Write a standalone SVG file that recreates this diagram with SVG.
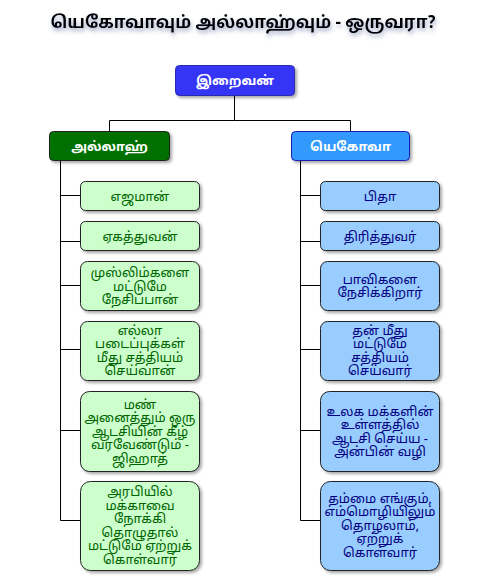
<svg xmlns="http://www.w3.org/2000/svg" width="487" height="577" viewBox="0 0 487 577">
<defs>
<filter id="sh" x="-20%" y="-20%" width="150%" height="150%">
<feDropShadow dx="2" dy="2" stdDeviation="1.5" flood-color="#000" flood-opacity="0.35"/>
</filter>
<filter id="tsh" x="-10%" y="-50%" width="120%" height="220%">
<feDropShadow dx="1" dy="3" stdDeviation="2" flood-color="#6670a0" flood-opacity="0.6"/>
</filter>
</defs>
<style>
text{font-family:"Noto Sans Tamil","Latha","Noto Sans","DejaVu Sans",sans-serif;text-anchor:middle}
.title{font-size:17px;font-weight:bold;fill:#000}
.root rect{fill:#3636f5;stroke:#2a2ab0;stroke-width:1}
.l1g rect{fill:#007000;stroke:#222;stroke-width:1}
.l1b rect{fill:#3399ff;stroke:#1a1ab0;stroke-width:1}
.hd text{fill:#fff;font-size:13px;font-weight:bold}
.g rect{fill:#ccffcc;stroke:#222;stroke-width:1}
.g text{fill:#006400;font-size:13px}
.b rect{fill:#99ccff;stroke:#222;stroke-width:1}
.b text{fill:#000080;font-size:13px}
.conn path{fill:none;stroke:#000;stroke-width:1}
</style>
<text class="title" x="243" y="28" filter="url(#tsh)">யெகோவாவும் அல்லாஹ்வும் - ஒருவரா?</text>
<g class="conn">
<path d="M234.5 95V120.5H109.5V131M234.5 120.5H350.5V131"/>
<path d="M60.5 160V520.5M60.5 195.5H80M60.5 241.5H80M60.5 285.5H80M60.5 349.5H80M60.5 430.5H80M60.5 520.5H80"/>
<path d="M300.5 160V520.5M300.5 195.5H320M300.5 241.5H320M300.5 285.5H320M300.5 349.5H320M300.5 430.5H320M300.5 520.5H320"/>
</g>
<g id="root" class="root hd"><rect x="175.5" y="65.5" width="119" height="30" rx="4" filter="url(#sh)"/><text x="235" y="85">இறைவன்</text></g>
<g id="allah" class="l1g hd"><rect x="49.5" y="131.5" width="120" height="29" rx="4" filter="url(#sh)"/><text x="109.5" y="150.5">அல்லாஹ்</text></g>
<g id="jehovah" class="l1b hd"><rect x="291.5" y="131.5" width="118" height="29" rx="4" filter="url(#sh)"/><text x="350.5" y="150.5">யெகோவா</text></g>

<g id="a1" class="g"><rect x="80.5" y="181.5" width="119" height="29" rx="5" filter="url(#sh)"/><text x="140" y="200.5">எஜமான்</text></g>
<g id="a2" class="g"><rect x="80.5" y="221.5" width="119" height="29" rx="5" filter="url(#sh)"/><text x="140" y="240.5">ஏகத்துவன்</text></g>
<g id="a3" class="g"><rect x="80.5" y="261.5" width="119" height="49" rx="7" filter="url(#sh)"/><text x="140" y="277">முஸ்லிம்களை<tspan x="140" dy="13.5">மட்டுமே</tspan><tspan x="140" dy="13.5">நேசிப்பான்</tspan></text></g>
<g id="a4" class="g"><rect x="80.5" y="321.5" width="119" height="59" rx="7" filter="url(#sh)"/><text x="140" y="334.5">எல்லா<tspan x="140" dy="13.5">படைப்புக்கள்</tspan><tspan x="140" dy="13.5">மீது சத்தியம்</tspan><tspan x="140" dy="13.5">செய்வான்</tspan></text></g>
<g id="a5" class="g"><rect x="80.5" y="391.5" width="119" height="80" rx="9" filter="url(#sh)"/><text x="140" y="408.5">மண்<tspan x="140" dy="13.5">அனைத்தும் ஒரு</tspan><tspan x="140" dy="13.5">ஆடசியின் கீழ்</tspan><tspan x="140" dy="13.5">வரவேண்டும் -</tspan><tspan x="140" dy="13.5">ஜிஹாத்</tspan></text></g>
<g id="a6" class="g"><rect x="80.5" y="481.5" width="119" height="89" rx="10" filter="url(#sh)"/><text x="140" y="496">அரபியில்<tspan x="140" dy="13.5">மக்காவை</tspan><tspan x="140" dy="13.5">நோக்கி</tspan><tspan x="140" dy="13.5">தொழுதால்</tspan><tspan x="140" dy="13.5">மட்டுமே ஏற்றுக்</tspan><tspan x="140" dy="13.5">கொள்வார்</tspan></text></g>

<g id="j1" class="b"><rect x="320.5" y="181.5" width="119" height="29" rx="5" filter="url(#sh)"/><text x="380" y="200.5">பிதா</text></g>
<g id="j2" class="b"><rect x="320.5" y="221.5" width="119" height="29" rx="5" filter="url(#sh)"/><text x="380" y="240.5">திரித்துவர்</text></g>
<g id="j3" class="b"><rect x="320.5" y="261.5" width="119" height="49" rx="7" filter="url(#sh)"/><text x="380" y="283.5">பாவிகளை<tspan x="380" dy="13.5">நேசிக்கிறார்</tspan></text></g>
<g id="j4" class="b"><rect x="320.5" y="321.5" width="119" height="59" rx="7" filter="url(#sh)"/><text x="380" y="334.5">தன் மீது<tspan x="380" dy="13.5">மட்டுமே</tspan><tspan x="380" dy="13.5">சத்தியம்</tspan><tspan x="380" dy="13.5">செய்வார்</tspan></text></g>
<g id="j5" class="b"><rect x="320.5" y="391.5" width="119" height="80" rx="9" filter="url(#sh)"/><text x="380" y="415.5">உலக மக்களின்<tspan x="380" dy="13.5">உள்ளத்தில்</tspan><tspan x="380" dy="13.5">ஆடசி செய்ய -</tspan><tspan x="380" dy="13.5">அன்பின் வழி</tspan></text></g>
<g id="j6" class="b"><rect x="320.5" y="481.5" width="119" height="89" rx="10" filter="url(#sh)"/><text x="380" y="502.5">தம்மை எங்கும்,<tspan x="380" dy="13.5">எம்மொழியிலும்</tspan><tspan x="380" dy="13.5">தொழலாம்,</tspan><tspan x="380" dy="13.5">ஏற்றுக்</tspan><tspan x="380" dy="13.5">கொள்வார்</tspan></text></g>
</svg>
